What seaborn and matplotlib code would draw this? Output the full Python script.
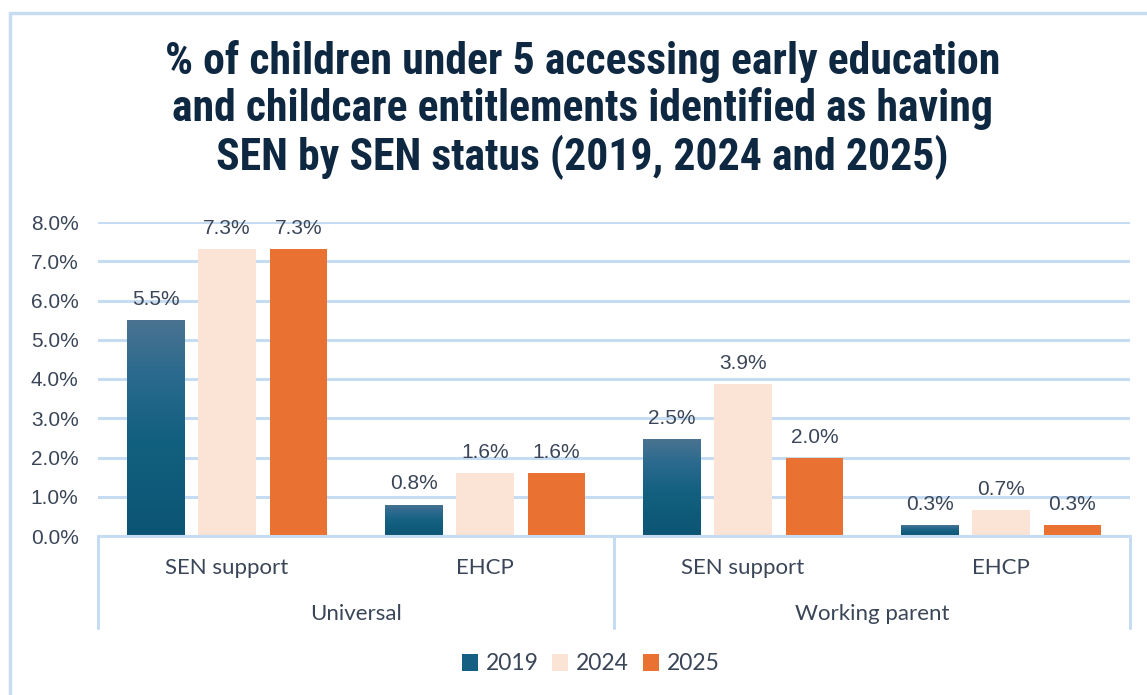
import numpy as np
import pandas as pd
import matplotlib
matplotlib.use("Agg")
import matplotlib.pyplot as plt
import matplotlib.transforms as mtransforms
from matplotlib import font_manager as fm
import seaborn as sns
from matplotlib.patches import Rectangle, Patch
from matplotlib.colors import LinearSegmentedColormap

# ---- data -------------------------------------------------------------
groups = ["Universal", "Working parent"]
statuses = ["SEN support", "EHCP"]
years = ["2019", "2024", "2025"]
pct_2019 = [5.5, 0.8, 2.46, 0.28]
pct_2024 = [7.3, 1.6, 3.86, 0.65]
pct_2025 = [7.3, 1.6, 1.98, 0.28]
y_ticks = [0, 1, 2, 3, 4, 5, 6, 7, 8]
title = ("% of children under 5 accessing early education\n"
         "and childcare entitlements identified as having\n"
         "SEN by SEN status (2019, 2024 and 2025)")

colors = {"2019": "#155F82", "2024": "#FBE3D6", "2025": "#E97132"}
grid_col = "#C6DCF2"
text_col = "#3A4658"
navy = "#0E2841"


def narrow_bold_font():
    """Pick a condensed bold face for the title if one is installed."""
    wanted = ["Liberation Sans Narrow", "Roboto Condensed", "Open Sans Condensed",
              "Noto Sans Condensed", "DejaVu Sans Condensed"]
    fonts = fm.fontManager.ttflist
    for name in wanted:
        for f in fonts:
            if f.name == name and f.weight in ("bold", 700):
                return fm.FontProperties(fname=f.fname)
    for f in fonts:
        if ("condensed" in str(f.stretch) or "Condensed" in f.fname) and \
                f.weight in ("bold", 700) and "Oblique" not in f.fname \
                and "Italic" not in f.fname:
            return fm.FontProperties(fname=f.fname)
    return fm.FontProperties(family="DejaVu Sans", weight="bold")


slots = [f"{g}|{s}" for g in groups for s in statuses]
rows = []
for yr, vals in zip(years, [pct_2019, pct_2024, pct_2025]):
    for slot, v in zip(slots, vals):
        rows.append({"slot": slot, "year": yr, "pct": v})
df = pd.DataFrame(rows)

sns.set_theme(style="white")
plt.rcParams["font.family"] = ["Liberation Sans", "DejaVu Sans"]

fig = plt.figure(figsize=(11.47, 6.95), dpi=100)
ax = fig.add_axes([98 / 1147, 1 - 536 / 695, (1130 - 98) / 1147, (536 - 222) / 695])

sns.barplot(data=df, x="slot", y="pct", hue="year", order=slots,
            hue_order=years, palette=colors, width=0.83, gap=0.2,
            ax=ax, legend=False, saturation=1, edgecolor="none")

ax.set_xlim(-0.5, 3.5)
ax.set_ylim(0, 8)
ax.set_yticks(y_ticks)
ax.set_yticklabels([f"{t:.1f}%" for t in y_ticks], fontsize=15, color=text_col)
ax.tick_params(axis="y", length=0, pad=14)
ax.set_xticks([])
ax.set_xlabel("")
ax.set_ylabel("")
for sp in ax.spines.values():
    sp.set_visible(False)
ax.yaxis.grid(True, color=grid_col, lw=2.2)
ax.set_axisbelow(True)

# vertical gradient on the 2019 bars
cmap = LinearSegmentedColormap.from_list(
    "teal", [(0.0, "#0C5474"), (0.45, "#12607F"), (0.75, "#2A6A8E"), (1.0, "#4A7391")])
grad = np.linspace(0, 1, 256).reshape(-1, 1)
for bar in ax.containers[0]:
    x0, y0 = bar.get_x(), bar.get_y()
    w, h = bar.get_width(), bar.get_height()
    im = ax.imshow(grad, cmap=cmap, origin="lower", aspect="auto",
                   extent=[x0, x0 + w, y0, y0 + h], zorder=bar.get_zorder())
    im.set_clip_path(bar)
    bar.set_facecolor("none")
ax.set_xlim(-0.5, 3.5)
ax.set_ylim(0, 8)

# value labels
for cont in ax.containers:
    for bar in cont:
        v = bar.get_height()
        ax.annotate(f"{v:.1f}%", (bar.get_x() + bar.get_width() / 2, v),
                    xytext=(0, 8), textcoords="offset points",
                    ha="center", va="bottom", fontsize=15, color=text_col,
                    annotation_clip=False)

# two-level category axis
trans = mtransforms.blended_transform_factory(ax.transData, ax.transAxes)
cat_font = ["Lato", "DejaVu Sans"]
ax.plot([-0.5, 3.5], [0, 0], color=grid_col, lw=2.2, transform=trans, clip_on=False)
for xb in [-0.5, 1.5, 3.5]:
    ax.plot([xb, xb], [0, -0.293], color=grid_col, lw=2.2,
            transform=trans, clip_on=False)
for i, slot in enumerate(slots):
    ax.text(i, -0.102, slot.split("|")[1], transform=trans, ha="center",
            va="center", fontsize=16, color=text_col, family=cat_font)
for gi, g in enumerate(groups):
    ax.text(gi * 2 + 0.5, -0.248, g, transform=trans, ha="center",
            va="center", fontsize=16, color=text_col, family=cat_font)

# title
fig.text(0.508, 1 - 110 / 695, title, ha="center", va="center",
         fontproperties=narrow_bold_font(), fontsize=31.5, color=navy,
         linespacing=1.14)

# legend
handles = [Patch(facecolor=colors[y], edgecolor="none", label=y) for y in years]
fig.legend(handles=handles, loc="center", bbox_to_anchor=(0.515, 1 - 664 / 695),
           ncol=3, frameon=False, handlelength=0.7, handleheight=0.7,
           handletextpad=0.35, columnspacing=0.6, labelcolor=text_col,
           prop={"family": cat_font, "size": 16.5})

# chart border
fig.add_artist(Rectangle((10 / 1147, -0.1), 1.2, 1.1 - 13 / 695,
                         transform=fig.transFigure, fill=False,
                         edgecolor="#C9DDF2", lw=2.5))

fig.savefig("out.png", dpi=100, facecolor="white")
